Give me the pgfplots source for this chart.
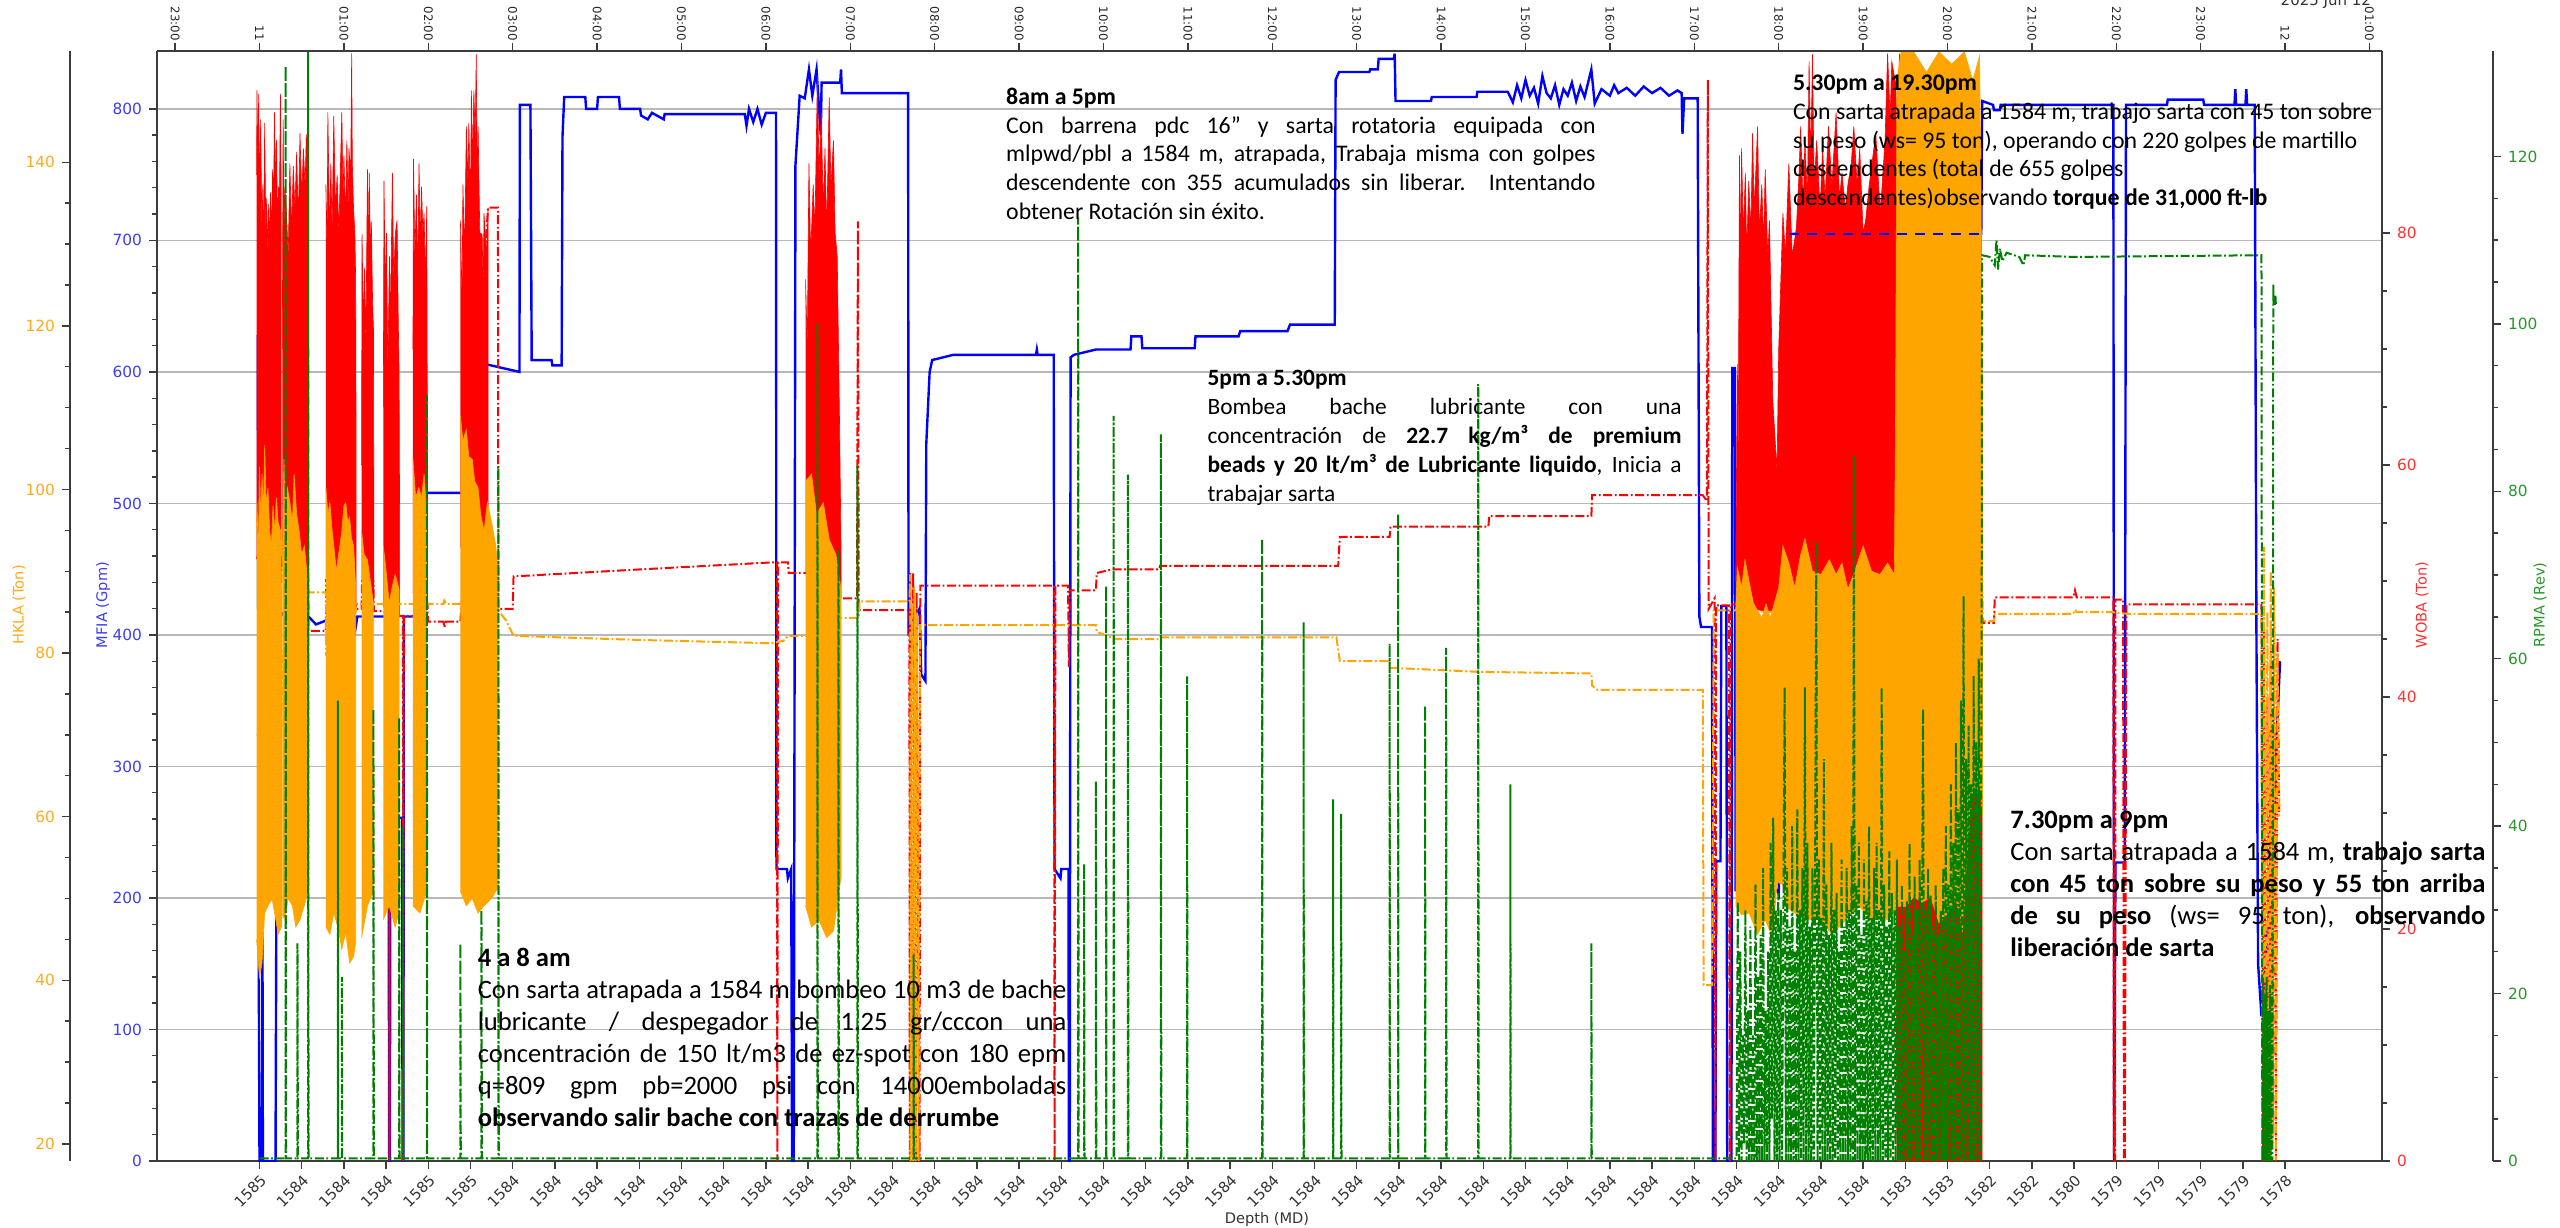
\documentclass[border=0pt]{standalone}
\usepackage{fontspec}
\setmainfont{Carlito}
\newfontfamily\dejavu{DejaVu Sans}
\usepackage{pgfplots}
\pgfplotsset{compat=1.18}

\definecolor{cblue}{RGB}{0,0,255}
\definecolor{cred}{RGB}{255,0,0}
\definecolor{corange}{RGB}{255,165,0}
\definecolor{cgreen}{RGB}{0,128,0}
\definecolor{lblue}{RGB}{60,60,255}
\definecolor{lred}{RGB}{255,50,50}
\definecolor{lorange}{RGB}{255,170,30}
\definecolor{lgreen}{RGB}{40,150,40}
\definecolor{spine}{RGB}{60,60,60}

\newcommand{\tkf}{\dejavu\fontsize{7.7}{9}\selectfont}
\newcommand{\tkb}{\dejavu\fontsize{7.4}{9}\selectfont}
\newcommand{\tkt}{\dejavu\fontsize{5.9}{7}\selectfont}
\newcommand{\lbf}{\dejavu\fontsize{7.3}{9}\selectfont}

\pgfplotsset{
  base/.style={scale only axis, width=1112.5pt, height=555pt, at={(78.5pt,33pt)}, anchor=south west, xmin=-1.2145, xmax=25.148},
  sp/.style={axis line style={draw=spine, line width=0.8pt}, tick style={draw=spine, line width=0.7pt}, tick align=outside, major tick length=4pt, minor tick length=2.3pt, /pgf/number format/assume math mode=true},
}
\tikzset{dd/.style={line width=1pt, dash pattern=on 4.5pt off 1.3pt on 0.9pt off 1.3pt}}

\begin{document}
\begin{tikzpicture}
\path[use as bounding box] (0,0) rectangle (1280pt,613.5pt);

% ---------------- MFIA (blue) ----------------
\begin{axis}[base, sp,
  axis y line*=left, axis x line*=bottom,
  ymin=0, ymax=844, ytick={0,100,...,800}, minor y tick num=4,
  ymajorgrids, grid style={draw=black!28, line width=0.7pt},
  xtick={0,0.5,...,24},
  xticklabels={1585,1584,1584,1584,1585,1585,
    1584,1584,1584,1584,1584,1584,1584,1584,1584,1584,1584,
    1584,1584,1584,1584,1584,1584,1584,1584,1584,1584,1584,
    1584,1584,1584,1584,1584,1584,1584,1584,1584,1584,1584,
    1583,1583,1582,1582,1580,1579,1579,1579,1579,1578},
  xticklabel style={rotate=45, anchor=north east, font=\tkb, text=black!80, inner sep=1.5pt},
  yticklabel style={font=\tkf, text=lblue},
]
\addplot[cblue, line width=1.2pt] coordinates {
(-0.02,628) (-0.01,170) (0.0,0) (0.03,0) (0.035,174) (0.04,0) (0.19,0) (0.20,200) (0.21,420) (0.30,414) (0.58,414) (0.67,408) (0.79,411) (0.99,411) (1.0,420) (1.03,420) (1.04,414) (1.13,414) (1.14,406) (1.16,414) (1.53,414) (1.535,0) (1.545,0) (1.55,255) (1.65,261) (1.69,261) (1.695,0) (1.705,0) (1.71,414) (1.88,414) (1.89,508) (2.45,508) (2.46,414) (2.63,414) (2.64,521) (2.66,521) (2.67,606) (3.08,600) (3.085,803) (3.21,803) (3.225,609) (3.46,609) (3.47,605) (3.58,605) (3.59,779) (3.61,809) (3.86,809) (3.87,800) (4.0,800) (4.01,809) (4.26,809) (4.27,800) (4.51,800) (4.52,795) (4.6,792) (4.65,797) (4.79,792) (4.8,796) (5.75,796) (5.77,787) (5.80,800) (5.85,790) (5.9,800) (5.95,788) (6.0,797) (6.12,797) (6.125,222) (6.25,222) (6.26,215) (6.30,222) (6.31,0) (6.33,0) (6.35,757) (6.40,810) (6.46,808) (6.51,830) (6.55,810) (6.60,830) (6.65,780) (6.66,820) (6.88,820) (6.89,830) (6.90,812) (7.685,812) (7.69,403) (7.82,420) (7.84,370) (7.89,365) (7.90,545) (7.94,600) (7.97,609) (8.22,613) (9.20,613) (9.21,617) (9.22,613) (9.41,613) (9.42,222) (9.49,215) (9.50,222) (9.585,222) (9.59,0) (9.60,0) (9.61,611) (9.65,613) (9.91,617) (10.32,617) (10.33,627) (10.45,627) (10.46,618) (10.52,618) (11.08,618) (11.09,627) (11.60,627) (11.62,631) (12.18,631) (12.21,636) (12.74,636) (12.75,822) (12.79,828) (13.15,828) (13.16,830) (13.25,830) (13.26,838) (13.44,838) (13.45,842) (13.46,806) (13.88,806) (13.89,809) (14.42,809) (14.43,813) (14.79,813) (14.85,805) (14.9,818) (14.95,808) (15.0,822) (15.05,810) (15.1,816) (15.15,804) (15.2,825) (15.25,812) (15.3,808) (15.35,818) (15.4,803) (15.45,815) (15.5,810) (15.55,820) (15.6,806) (15.65,817) (15.7,809) (15.78,830) (15.82,804) (15.9,815) (16.0,810) (16.05,818) (16.1,812) (16.2,816) (16.3,810) (16.4,817) (16.5,812) (16.6,816) (16.7,810) (16.8,814) (16.85,812) (16.86,781) (16.88,808) (17.04,808) (17.06,414) (17.08,406) (17.21,406) (17.22,0) (17.25,0) (17.26,228) (17.31,228) (17.32,422) (17.38,422) (17.39,0) (17.44,0) (17.45,603) (17.48,603) (17.49,206) (17.98,206) (18.0,203) (18.05,400) (18.1,705) (20.40,705) (20.41,806) (20.54,803) (20.55,799) (20.62,799) (20.63,803) (21.965,803) (21.975,0) (21.99,227) (22.10,227) (22.115,803) (22.60,803) (22.61,807) (23.03,807) (23.04,803) (23.40,803) (23.41,815) (23.42,803) (23.53,803) (23.54,815) (23.55,803) (23.64,803) (23.66,406) (23.68,150) (23.72,110) (23.84,219) (23.86,219) (23.90,321) (23.94,380)};
\end{axis}

% ---------------- WOBA (red) ----------------
\begin{axis}[base, sp, axis y line*=right, hide x axis,
  ymin=0, ymax=95.7, ytick={0,20,...,80}, minor y tick num=3,
  yticklabel style={font=\tkf, text=lred}]
\addplot[cred, dd] coordinates {
(-0.035,52) (0.255,50) (0.27,52) (0.576,50) (0.58,45.7) (0.787,45.7) (0.79,50) (1.14,48) (1.145,47.6) (1.209,47.6) (1.215,50) (1.35,50) (1.355,47.4) (1.467,47.4) (1.537,47) (1.54,0) (1.545,47) (1.66,47) (1.70,47) (1.701,0) (1.71,47) (1.818,47) (1.99,48) (1.995,46.5) (2.18,46.5) (2.19,46.0) (2.21,46.5) (2.38,46.5) (2.708,82.2) (2.825,82.2) (2.83,47.6) (3.0,47.6) (3.01,50.4) (4.5,51.0) (6.05,51.6) (6.13,51.6) (6.135,0) (6.145,51.6) (6.26,51.6) (6.27,50.7) (6.47,50.7) (6.89,48.5) (7.08,48.5) (7.09,81) (7.10,47.5) (7.70,47.5) (7.705,0) (7.71,50.7) (7.74,0) (7.745,50.7) (7.78,0) (7.785,49) (7.82,0) (7.83,49.6) (9.415,49.6) (9.42,0) (9.43,49.6) (9.58,49.6) (9.59,42.6) (9.60,49.2) (9.91,49.2) (9.92,50.7) (10.1,51) (10.66,51) (10.67,51.3) (12.78,51.3) (12.80,53.8) (13.39,53.8) (13.40,54.7) (14.56,54.7) (14.57,55.6) (15.78,55.6) (15.79,57.4) (17.10,57.4) (17.15,56.9) (17.16,93.2) (17.17,47.6) (17.24,48.5) (17.25,0) (17.26,47.9) (17.41,47.9) (17.42,0) (17.43,48) (17.49,48) (20.41,50) (20.415,46.4) (20.55,46.4) (20.56,48.6) (21.49,48.6) (21.51,49.2) (21.53,48.6) (21.965,48.6) (21.97,0) (21.985,0) (21.99,48.4) (22.08,48.4) (22.09,0) (22.10,0) (22.12,48.0) (23.72,48.0) (23.74,0) (23.75,46) (23.77,0) (23.79,40) (23.81,0) (23.83,44) (23.85,2) (23.87,46.7) (23.89,0) (23.91,45) (23.93,30)};
\addplot[fill=cred, draw=cred, line width=0.3pt] coordinates {(-0.035,85) (-0.03,92.3) (-0.02,86) (-0.01,92) (0.0,84) (0.014,89.8) (0.028,80) (0.04,84.2) (0.05,78) (0.061,89.5) (0.075,80) (0.085,83) (0.1,78) (0.108,82.5) (0.12,79) (0.131,83.5) (0.145,80) (0.155,85.5) (0.165,82) (0.178,90.4) (0.19,84) (0.201,88) (0.215,80) (0.225,84) (0.235,82) (0.248,92) (0.255,85) (0.255,50) (0.2,52) (0.15,50) (0.1,53) (0.05,51) (0.0,53) (-0.035,52)};
\addplot[fill=cred, draw=cred, line width=0.3pt] coordinates {(0.27,70) (0.28,89.8) (0.29,80) (0.30,84) (0.32,81.7) (0.34,78) (0.36,86) (0.38,80) (0.40,85.8) (0.42,82) (0.44,87) (0.46,81) (0.48,88.6) (0.50,83) (0.52,87.3) (0.54,84) (0.555,88.5) (0.57,85) (0.576,88.3) (0.58,60) (0.58,50) (0.5,52) (0.4,51) (0.3,53) (0.27,52)};
\addplot[fill=cred, draw=cred, line width=0.3pt] coordinates {(0.787,84.2) (0.80,78) (0.81,90.4) (0.83,80) (0.845,86) (0.86,80) (0.88,90.1) (0.90,82) (0.92,85) (0.94,80) (0.975,90.4) (0.99,83) (1.0,86.7) (1.02,81) (1.035,88) (1.05,82) (1.06,87.3) (1.08,85) (1.092,95.5) (1.10,86) (1.115,82) (1.13,80) (1.139,76.1) (1.145,60) (1.145,48) (1.05,50) (0.95,47) (0.90,36) (0.85,48) (0.787,50)};
\addplot[fill=cred, draw=cred, line width=0.3pt] coordinates {(1.209,60) (1.215,79.9) (1.23,72) (1.245,77) (1.26,70) (1.279,85.5) (1.29,78) (1.30,85.2) (1.315,78) (1.325,81) (1.34,74) (1.35,71.8) (1.355,55) (1.355,48) (1.28,50) (1.209,50)};
\addplot[fill=cred, draw=cred, line width=0.3pt] coordinates {(1.467,65) (1.475,84.5) (1.49,75) (1.505,80) (1.52,68) (1.54,78) (1.55,72) (1.575,85.2) (1.59,76) (1.61,80) (1.63,81.1) (1.645,72) (1.654,68) (1.66,55) (1.66,47) (1.56,45) (1.467,48)};
\addplot[fill=cred, draw=cred, line width=0.3pt] coordinates {(1.818,70) (1.825,86.4) (1.84,78) (1.86,83.3) (1.875,76) (1.89,86.0) (1.905,79) (1.92,84) (1.935,80) (1.95,81.7) (1.965,76) (1.982,82.3) (1.99,60) (1.99,48) (1.9,50) (1.818,49)};
\addplot[fill=cred, draw=cred, line width=0.3pt] coordinates {(2.38,81.1) (2.40,74) (2.41,84.2) (2.43,78) (2.451,89.2) (2.47,84) (2.48,89.5) (2.50,82) (2.51,92.3) (2.525,86) (2.54,92.3) (2.555,88) (2.568,95.4) (2.58,84) (2.59,89.2) (2.61,80) (2.638,79.9) (2.65,75) (2.66,81.7) (2.69,78) (2.708,82.2) (2.708,52) (2.6,53) (2.5,52) (2.38,53)};
\addplot[fill=cred, draw=cred, line width=0.3pt] coordinates {(6.47,76) (6.49,70) (6.51,86) (6.53,78) (6.56,84.2) (6.58,80) (6.61,93.5) (6.63,85) (6.655,90.4) (6.68,82) (6.70,87.3) (6.72,80) (6.75,91.7) (6.77,84) (6.80,88) (6.82,80) (6.845,78) (6.87,65) (6.89,53) (6.89,48.5) (6.7,50) (6.47,50.7)};
\addplot[fill=cred, draw=cred, line width=0.3pt] coordinates {(17.49,50) (17.51,68.7) (17.52,60) (17.535,86.7) (17.55,78) (17.56,87.3) (17.58,80) (17.605,85.2) (17.62,78) (17.645,84.5) (17.67,80) (17.69,88.6) (17.71,82) (17.75,89.2) (17.77,80) (17.80,84.2) (17.82,79) (17.84,85.5) (17.87,78) (17.89,81.1) (17.93,65.6) (17.98,59.4) (18.0,70) (18.05,81.7) (18.08,78) (18.12,86) (18.16,78) (18.21,80.5) (18.24,85) (18.26,89.2) (18.29,82) (18.31,88) (18.34,83) (18.36,94.8) (18.38,86) (18.40,95.4) (18.42,84) (18.45,88) (18.49,82) (18.52,87.3) (18.55,83) (18.59,89.2) (18.63,84) (18.68,90.4) (18.72,83) (18.75,85.2) (18.79,82) (18.82,84.2) (18.86,86) (18.89,89.2) (18.93,84) (18.96,87.3) (19.0,80) (19.03,81.1) (19.07,84) (19.15,88.6) (19.20,82) (19.22,83.5) (19.26,88) (19.29,95.5) (19.32,90) (19.34,94.8) (19.385,92.9) (19.41,88) (19.43,95.5) (19.47,87) (19.50,91.5) (19.55,86) (19.59,92.9) (19.65,87) (19.71,90.4) (19.76,88) (19.80,94.1) (19.85,90) (19.90,95.4) (19.95,88) (20.0,90) (20.05,86) (20.1,89) (20.15,84) (20.2,88) (20.25,83) (20.3,87) (20.35,85) (20.40,88) (20.41,50) (20.41,0) (19.4,0) (19.38,46) (18.05,47) (17.49,48)};
\end{axis}

% ---------------- HKLA (orange) ----------------
\begin{axis}[base, hide axis, ymin=17.9, ymax=153.6]
\addplot[corange, dd] coordinates {
(-0.035,70) (0.26,70) (0.27,80) (0.576,87.8) (0.58,87.4) (0.787,87.4) (0.79,80) (1.14,85) (1.145,86) (1.209,86) (1.35,86) (1.467,86) (1.66,86) (1.818,86) (1.99,86) (2.18,86) (2.19,86.4) (2.21,86) (2.38,86) (2.826,51.3) (2.83,85.2) (2.92,84) (3.01,82.1) (4.5,81.6) (6.05,81.2) (6.21,81.5) (6.26,82.1) (6.47,82.1) (6.89,84.3) (7.10,84.3) (7.11,86.3) (7.70,86.3) (7.71,89.6) (7.715,17.9) (7.73,86) (7.745,17.9) (7.76,88) (7.775,17.9) (7.79,85) (7.81,17.9) (7.825,83.4) (9.91,83.4) (9.92,82.6) (10.14,81.7) (10.66,81.7) (10.67,81.9) (12.76,81.9) (12.80,79.0) (13.39,79.0) (13.40,78.2) (14.44,77.7) (15.78,77.5) (15.79,76.0) (15.85,75.5) (17.10,75.5) (17.11,39.4) (17.21,39.4) (17.23,85.2) (17.49,85.2) (20.41,84) (20.415,83.9) (20.55,83.9) (20.56,84.8) (21.49,84.8) (21.51,85.3) (21.53,85.0) (21.96,85.0) (22.12,84.8) (23.72,84.8) (23.73,17.9) (23.75,93) (23.77,20) (23.79,85) (23.81,18) (23.83,90) (23.85,20) (23.87,88) (23.89,18) (23.91,80) (23.93,60)};
\addplot[fill=corange, draw=corange, line width=0.3pt] coordinates {(-0.035,95) (-0.03,98.4) (-0.015,92) (0.0,102.8) (0.015,96) (0.03,101.9) (0.045,97) (0.061,105.4) (0.08,98) (0.1,100.2) (0.12,95) (0.14,93.1) (0.16,98) (0.18,94.9) (0.2,99) (0.22,96) (0.25,94.9) (0.26,88) (0.26,46.5) (0.22,45.6) (0.2,47) (0.15,49.9) (0.1,49.1) (0.06,48.2) (0.03,42.1) (0.0,40.3) (-0.035,45)};
\addplot[fill=corange, draw=corange, line width=0.3pt] coordinates {(0.27,90) (0.29,103.7) (0.31,98) (0.33,100.2) (0.36,98.4) (0.39,96) (0.41,101.9) (0.44,97) (0.47,94.9) (0.50,92) (0.53,93.1) (0.56,90) (0.576,87.8) (0.576,50.9) (0.53,49.1) (0.48,47.4) (0.43,46.5) (0.39,49.1) (0.34,50) (0.30,47.4) (0.27,48)};
\addplot[fill=corange, draw=corange, line width=0.3pt] coordinates {(0.787,100.2) (0.81,97) (0.834,98.4) (0.86,95) (0.881,93.1) (0.91,90) (0.928,91.4) (0.95,93) (0.975,94.9) (1.0,98) (1.022,98.4) (1.045,96) (1.068,96.6) (1.09,94) (1.115,93.1) (1.14,88) (1.14,44.7) (1.115,42.9) (1.068,42.1) (1.022,45.8) (0.975,43.8) (0.93,46.5) (0.88,48.2) (0.834,45.6) (0.787,46.5)};
\addplot[fill=corange, draw=corange, line width=0.3pt] coordinates {(1.209,94.9) (1.24,92) (1.279,91.4) (1.31,89) (1.35,86.1) (1.35,50.9) (1.279,49.1) (1.209,45.2)};
\addplot[fill=corange, draw=corange, line width=0.3pt] coordinates {(1.467,93.1) (1.50,90) (1.537,86.1) (1.57,88) (1.607,89.6) (1.654,87.8) (1.654,48.2) (1.607,46.5) (1.537,49.1) (1.467,47.4)};
\addplot[fill=corange, draw=corange, line width=0.3pt] coordinates {(1.818,103.7) (1.85,99) (1.888,100.2) (1.92,99) (1.95,101.9) (1.982,97) (1.982,50.9) (1.9,48.2) (1.818,49.1)};
\addplot[fill=corange, draw=corange, line width=0.3pt] coordinates {(2.38,109) (2.41,106) (2.45,107.3) (2.48,104) (2.52,103.7) (2.55,101) (2.59,100.2) (2.62,97) (2.66,94.9) (2.70,98.4) (2.75,96) (2.80,93.1) (2.826,90) (2.826,51.3) (2.75,50) (2.66,49.1) (2.59,48.2) (2.52,50) (2.45,49.1) (2.38,50.9)};
\addplot[fill=corange, draw=corange, line width=0.3pt] coordinates {(6.47,101) (6.54,101.9) (6.6,97) (6.63,97.5) (6.68,98.4) (6.75,93.9) (6.83,92) (6.89,87.8) (6.89,52.6) (6.8,46) (6.72,45.2) (6.63,47.3) (6.54,46.5) (6.47,49.1)};
\addplot[fill=corange, draw=corange, line width=0.3pt] coordinates {(17.49,85.2) (17.51,90.5) (17.56,88) (17.60,91.4) (17.65,88.7) (17.70,86.1) (17.75,85.2) (17.80,84.3) (17.85,86) (17.9,84.3) (18.0,88) (18.05,93.1) (18.12,91) (18.19,88) (18.26,92) (18.31,94) (18.4,90) (18.5,89.6) (18.6,91.4) (18.68,89.6) (18.75,91) (18.82,87.8) (18.9,90) (19.0,93.1) (19.1,90) (19.2,89.6) (19.29,91) (19.37,89.6) (19.385,110) (19.40,150) (19.45,153.5) (19.6,153.5) (19.75,151) (19.9,153.5) (20.05,152) (20.2,153.5) (20.3,150) (20.38,153) (20.41,120) (20.415,83.9) (20.415,60) (20.39,63) (20.3,63) (20.25,58) (20.18,46) (20.1,50) (20.0,48) (19.9,47) (19.8,50.2) (19.7,49.5) (19.6,50.2) (19.5,49) (19.4,49) (19.3,47.4) (19.1,47.4) (18.95,49.1) (18.8,47.4) (18.63,45.6) (18.5,47.4) (18.31,47.4) (18.07,49.1) (18.05,51.7) (17.98,52) (17.93,45.2) (17.84,47.4) (17.75,45.6) (17.65,48.2) (17.56,48) (17.49,49.1)};
\end{axis}

% visible part of blue under the dense bands
\begin{axis}[base, hide axis, ymin=0, ymax=844]
\addplot[cblue, line width=1.1pt, dash pattern=on 5pt off 4pt] coordinates {(18.12,705) (20.40,705)};
\end{axis}

% ---------------- RPMA (green) ----------------
\begin{axis}[base, hide axis, ymin=0, ymax=132.6]
\addplot[cgreen, dd] coordinates {
(0.0,0.3) (0.309,0.3) (0.309,130.8) (0.314,0.3) (0.45,0.3) (0.45,26) (0.455,0.3) (0.576,0.3) (0.576,140) (0.581,0.3) (0.928,0.3) (0.928,55) (0.933,0.3) (0.975,0.3) (0.975,22) (0.98,0.3) (1.35,0.3) (1.35,54) (1.355,0.3) (1.654,0.3) (1.654,53) (1.659,0.3) (1.70,0.3) (1.70,40) (1.705,0.3) (1.982,0.3) (1.982,91.5) (1.987,0.3) (2.38,0.3) (2.38,26) (2.385,0.3) (2.63,0.3) (2.63,30) (2.635,0.3) (2.83,0.3) (2.83,83) (2.835,0.3) (6.61,0.3) (6.61,100) (6.615,0.3) (6.86,0.3) (6.86,73) (6.865,0.3) (7.085,0.3) (7.085,83) (7.09,0.3) (7.75,0.3) (7.75,24.7) (7.755,0.3) (9.70,0.3) (9.70,112.7) (9.705,0.3) (9.77,0.3) (9.77,35.5) (9.775,0.3) (9.91,0.3) (9.91,45.4) (9.915,0.3) (10.03,0.3) (10.03,68.7) (10.035,0.3) (10.12,0.3) (10.12,89) (10.125,0.3) (10.29,0.3) (10.29,82) (10.295,0.3) (10.68,0.3) (10.68,86.8) (10.685,0.3) (10.99,0.3) (10.99,57.9) (10.995,0.3) (11.88,0.3) (11.88,74.3) (11.885,0.3) (12.37,0.3) (12.37,64.4) (12.375,0.3) (12.72,0.3) (12.72,43.2) (12.725,0.3) (12.815,0.3) (12.815,41.5) (12.82,0.3) (13.39,0.3) (13.39,61.8) (13.395,0.3) (13.49,0.3) (13.49,77.3) (13.495,0.3) (13.81,0.3) (13.81,54.4) (13.815,0.3) (14.06,0.3) (14.06,61.3) (14.065,0.3) (14.44,0.3) (14.44,92.8) (14.445,0.3) (14.82,0.3) (14.82,45) (14.825,0.3) (15.78,0.3) (15.78,26) (15.785,0.3) (17.50,0.3)
(17.515,31) (17.53,0) (17.545,25) (17.56,0) (17.575,15) (17.59,2) (17.605,30) (17.62,0) (17.635,18) (17.65,0) (17.665,28) (17.68,0) (17.695,15) (17.71,0) (17.725,33) (17.74,0) (17.755,22) (17.77,0) (17.785,27) (17.80,0) (17.815,35) (17.83,0) (17.845,18) (17.86,0) (17.875,25) (17.89,0) (17.905,38) (17.92,5) (17.935,41) (17.95,0) (17.965,30) (17.98,0) (17.995,32) (18.01,0) (18.025,30) (18.04,0) (18.07,56.6) (18.085,0) (18.10,35) (18.115,0) (18.13,28) (18.145,0) (18.16,40) (18.175,0) (18.19,25) (18.205,0) (18.22,42) (18.235,0) (18.25,30) (18.265,0) (18.28,35) (18.295,0) (18.31,56.6) (18.325,0) (18.34,38) (18.355,0) (18.37,28) (18.385,0) (18.40,35) (18.415,0) (18.43,30) (18.445,73.9) (18.46,0) (18.475,36) (18.49,0) (18.505,29) (18.52,0) (18.535,48) (18.55,0) (18.565,33) (18.58,0) (18.595,27) (18.61,0) (18.625,38) (18.64,0) (18.655,30) (18.67,0) (18.685,32) (18.70,0) (18.715,25) (18.73,0) (18.745,36) (18.76,0) (18.775,28) (18.79,0) (18.805,35) (18.82,0) (18.835,30) (18.85,0) (18.865,40) (18.88,0) (18.89,84.2) (18.905,0) (18.92,33) (18.935,0) (18.95,38) (18.965,0) (18.98,27) (18.995,0) (19.01,36) (19.025,0) (19.04,31) (19.055,0) (19.07,40) (19.085,0) (19.10,29) (19.115,0) (19.13,35) (19.145,0) (19.16,38) (19.175,0) (19.19,30) (19.205,0) (19.22,56.6) (19.235,0) (19.25,33) (19.265,0) (19.28,28) (19.295,0) (19.31,37) (19.325,0) (19.34,32) (19.355,0) (19.37,30) (19.385,0) (19.40,36) (19.415,0) (19.43,28) (19.445,0) (19.46,33) (19.475,0) (19.49,25) (19.505,0) (19.52,31) (19.535,0) (19.55,38) (19.565,0) (19.58,27) (19.595,0) (19.61,34) (19.625,0) (19.64,30) (19.655,0) (19.67,36) (19.685,0) (19.71,54) (19.725,0) (19.74,30) (19.755,0) (19.77,35) (19.785,0) (19.80,31.7) (19.815,0) (19.83,28) (19.845,0) (19.86,33) (19.875,0) (19.89,27) (19.905,0) (19.92,30) (19.935,0) (19.95,35) (19.965,0) (19.98,40) (19.995,0) (20.01,33) (20.025,0) (20.04,45) (20.055,0) (20.07,38) (20.085,0) (20.10,50) (20.115,0) (20.13,42) (20.145,0) (20.16,55) (20.175,0) (20.19,67.5) (20.205,0) (20.22,48) (20.235,0) (20.25,52) (20.265,0) (20.28,45) (20.295,0) (20.31,58) (20.325,0) (20.34,50) (20.355,0) (20.37,60) (20.385,0) (20.405,65.4)
(20.41,108.2) (20.5,108) (20.56,107) (20.58,110) (20.6,106.5) (20.62,109) (20.65,107.5) (20.7,108.5) (20.85,108) (20.9,107) (20.92,108.2) (21.5,108) (23.72,108.2) (23.73,0) (23.74,21.9) (23.75,0) (23.76,20) (23.77,0) (23.78,22) (23.79,0) (23.80,18) (23.81,0) (23.82,21) (23.83,0) (23.84,20) (23.85,0) (23.86,104.7) (23.865,102.4) (23.88,102.4) (23.885,103.5) (23.89,102.4)};
\end{axis}

% ---------------- top time axis ----------------
\begin{axis}[base, sp, axis x line*=top, hide y axis, ymin=0, ymax=1,
  xtick={-1,0,...,25},
  xticklabels={23:00,11,01:00,02:00,03:00,04:00,05:00,06:00,07:00,08:00,09:00,10:00,11:00,12:00,13:00,14:00,15:00,16:00,17:00,18:00,19:00,20:00,21:00,22:00,23:00,12,01:00},
  xticklabel style={rotate=-90, anchor=east, font=\tkt, text=black!85, inner sep=1pt}]
\addplot[draw=none] coordinates {(0,0.5)};
\end{axis}

% ---------------- HKLA spine ----------------
\begin{axis}[scale only axis, width=1pt, height=555pt, at={(35pt,33pt)}, anchor=south west, sp,
  axis y line*=left, hide x axis, xmin=0, xmax=1, ymin=17.9, ymax=153.6,
  ytick={20,40,...,140}, minor y tick num=3, yticklabel style={font=\tkf, text=lorange}]
\addplot[draw=none] coordinates {(0.5,50)};
\end{axis}

% ---------------- RPMA spine ----------------
\begin{axis}[scale only axis, width=1pt, height=555pt, at={(1245.5pt,33pt)}, anchor=south west, sp,
  axis y line*=right, hide x axis, xmin=0, xmax=1, ymin=0, ymax=132.6,
  ytick={0,20,...,120}, minor y tick num=3, yticklabel style={font=\tkf, text=lgreen}]
\addplot[draw=none] coordinates {(0.5,50)};
\end{axis}

% ---------------- axis labels ----------------
\node[rotate=90, font=\lbf, text=lorange] at (9.5pt,311pt) {HKLA (Ton)};
\node[rotate=90, font=\lbf, text=lblue] at (51.5pt,311pt) {MFIA (Gpm)};
\node[rotate=90, font=\lbf, text=lred] at (1211pt,311pt) {WOBA (Ton)};
\node[rotate=90, font=\lbf, text=lgreen] at (1270pt,311pt) {RPMA (Rev)};
\node[font=\lbf, text=black!80] at (633.5pt,4pt) {Depth (MD)};
\node[anchor=base east, font=\dejavu\fontsize{7.5}{9}\selectfont, text=black!80] at (1189pt,610.5pt) {2025 Jun 12};

% ---------------- annotations ----------------
\node[anchor=north west, inner sep=0pt, align=left, font=\fontsize{11.9}{14.3}\selectfont] at (502.9pt,569.6pt) {%
\textbf{8am a 5pm}\\
\makebox[294.7pt][s]{Con barrena pdc 16" y sarta rotatoria equipada con}\\
\makebox[294.7pt][s]{mlpwd/pbl a 1584 m, atrapada, Trabaja misma con golpes}\\
\makebox[294.7pt][s]{descendente con 355 acumulados sin liberar. Intentando}\\
obtener Rotación sin éxito.};

\node[anchor=north west, inner sep=0pt, align=left, font=\fontsize{11.7}{14.5}\selectfont] at (603.6pt,428.7pt) {%
\textbf{5pm a 5.30pm}\\
\makebox[237pt][s]{Bombea bache lubricante con una}\\
\makebox[237pt][s]{concentración de \textbf{22.7 kg/m³ de premium}}\\
\makebox[237pt][s]{\textbf{beads y 20 lt/m³ de Lubricante liquido}, Inicia a}\\
trabajar sarta};

\node[anchor=north west, inner sep=0pt, align=left, font=\fontsize{11.9}{14.3}\selectfont] at (896.3pt,576pt) {%
\textbf{5.30pm a 19.30pm}\\
Con sarta atrapada a 1584 m, trabajo sarta con 45 ton sobre\\
su peso (ws= 95 ton), operando con 220 golpes de martillo\\
descendentes (total de 655 golpes\\
descendentes)observando \textbf{torque de 31,000 ft-lb}};

\node[anchor=north west, inner sep=0pt, align=left, font=\fontsize{13.3}{16}\selectfont] at (238.7pt,139.4pt) {%
\textbf{4 a 8 am}\\
\makebox[294.3pt][s]{Con sarta atrapada a 1584 m bombeo 10 m3 de bache}\\
\makebox[294.3pt][s]{lubricante / despegador de 1.25 gr/cccon una}\\
\makebox[294.3pt][s]{concentración de 150 lt/m3 de ez-spot con 180 epm}\\
\makebox[294.3pt][s]{q=809 gpm pb=2000 psi con 14000emboladas}\\
\textbf{observando salir bache con trazas de derrumbe}};

\node[anchor=north west, inner sep=0pt, align=left, font=\fontsize{13.3}{16}\selectfont] at (1005pt,208.3pt) {%
\textbf{7.30pm a 9pm}\\
\makebox[237.5pt][s]{Con sarta atrapada a 1584 m, \textbf{trabajo sarta}}\\
\makebox[237.5pt][s]{\textbf{con 45 ton sobre su peso y 55 ton arriba}}\\
\makebox[237.5pt][s]{\textbf{de su peso} (ws= 95 ton), \textbf{observando}}\\
\textbf{liberación de sarta}};
\end{tikzpicture}
\end{document}
